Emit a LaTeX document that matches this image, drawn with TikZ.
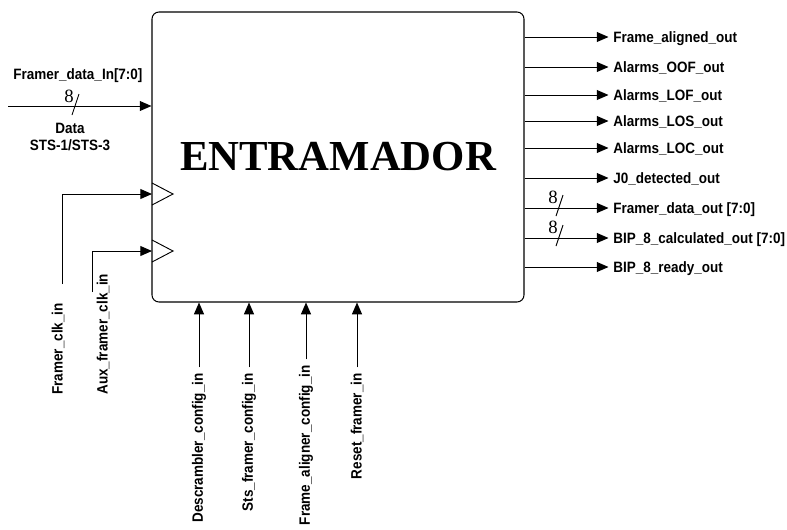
\documentclass[tikz,border=0pt]{standalone}
\usepackage{fontspec}
\setmainfont{Liberation Serif}
\newfontfamily\lblfont{Liberation Sans}[FakeStretch=0.9]
\usetikzlibrary{arrows.meta,positioning}
\begin{document}
\begin{tikzpicture}
            [
                x = 0.03cm,
                y = -0.03cm,
                box/.style={
                    draw,
                    rounded corners = 6pt,
                    line width = 0.9pt,
                    minimum width = 11.16cm,
                    minimum height = 8.7cm,
                    font = \bfseries\fontsize{36.5}{40}\selectfont
                },
                lbl/.style={
                    font = \lblfont\bfseries\fontsize{12.8}{14.5}\selectfont,
                    inner sep = 1pt
                },
                outlbl/.style={
                    lbl,
                    anchor = west,
                    text height = 9.5pt,
                    text depth = 0.5pt
                },
                sig/.style={
                    -{Triangle[length=10pt, width=8.5pt]},
                    line width = 0.8pt
                },
                busnum/.style={
                    font = \fontsize{16}{17}\selectfont,
                    inner sep = 0pt
                },
            ]
                \useasboundingbox (0,0) rectangle (787,529);

                \node[box] (framer) at (338,157) {ENTRAMADOR};

                % data input
                \coordinate (din) at (8,106);
                \draw[sig] (din) -- (framer.west |- din);
                \node[lbl] (dname) at (78,76) {Framer\_data\_In[7:0]};
                \node[lbl, align=center] (dkind) at (70,137) {Data\\STS-1/STS-3};
                \draw[line width=0.8pt] (79,94) -- (72,115);
                \node[busnum] (dwidth) at (69,96) {8};

                % clocks
                \draw[line width=0.8pt] (152,183) -- (173,194) -- (152,205);
                \draw[line width=0.8pt] (152,240) -- (173,251) -- (152,262);
                \coordinate (ck1) at (152,194);
                \coordinate (ck2) at (152,251);
                \coordinate (clkfoot) at (62,284);
                \coordinate (auxfoot) at (92,292);
                \draw[sig] (clkfoot) |- (ck1);
                \draw[sig] (auxfoot) |- (ck2);
                \node[lbl, rotate=90, anchor=west] (clkin) at (58,396) {Framer\_clk\_in};
                \node[lbl, rotate=90, anchor=west] (auxclkin) at (103,396) {Aux\_framer\_clk\_in};

                % configuration inputs
                \foreach \i/\x/\top/\txt in {1/199/372/Descrambler\_config\_in,
                                             2/249/372/Sts\_framer\_config\_in,
                                             3/306/364/Frame\_aligner\_config\_in,
                                             4/357/372/Reset\_framer\_in}
                {
                    \node[lbl, rotate=90, anchor=east] (cfg\i) at (\x,\top) {\txt};
                    \draw[sig] ([yshift=4pt]cfg\i.east) -- (framer.south -| cfg\i.east);
                }

                % outputs
                \foreach \i/\y/\txt in {1/37/Frame\_aligned\_out,
                                        2/67/Alarms\_OOF\_out,
                                        3/95/Alarms\_LOF\_out,
                                        4/121/Alarms\_LOS\_out,
                                        5/148/Alarms\_LOC\_out,
                                        6/178/J0\_detected\_out,
                                        7/208/{Framer\_data\_out [7:0]},
                                        8/238/{BIP\_8\_calculated\_out [7:0]},
                                        9/267/BIP\_8\_ready\_out}
                {
                    \node[outlbl] (out\i) at (612,\y) {\txt};
                    \draw[sig] (framer.east |- out\i.west) -- ([xshift=-3pt]out\i.west);
                }
                \foreach \y in {208,238}
                {
                    \draw[line width=0.8pt] (563,\y-13) -- (556,\y+8);
                    \node[busnum] at (553,\y-11) {8};
                }
            \end{tikzpicture}
\end{document}
